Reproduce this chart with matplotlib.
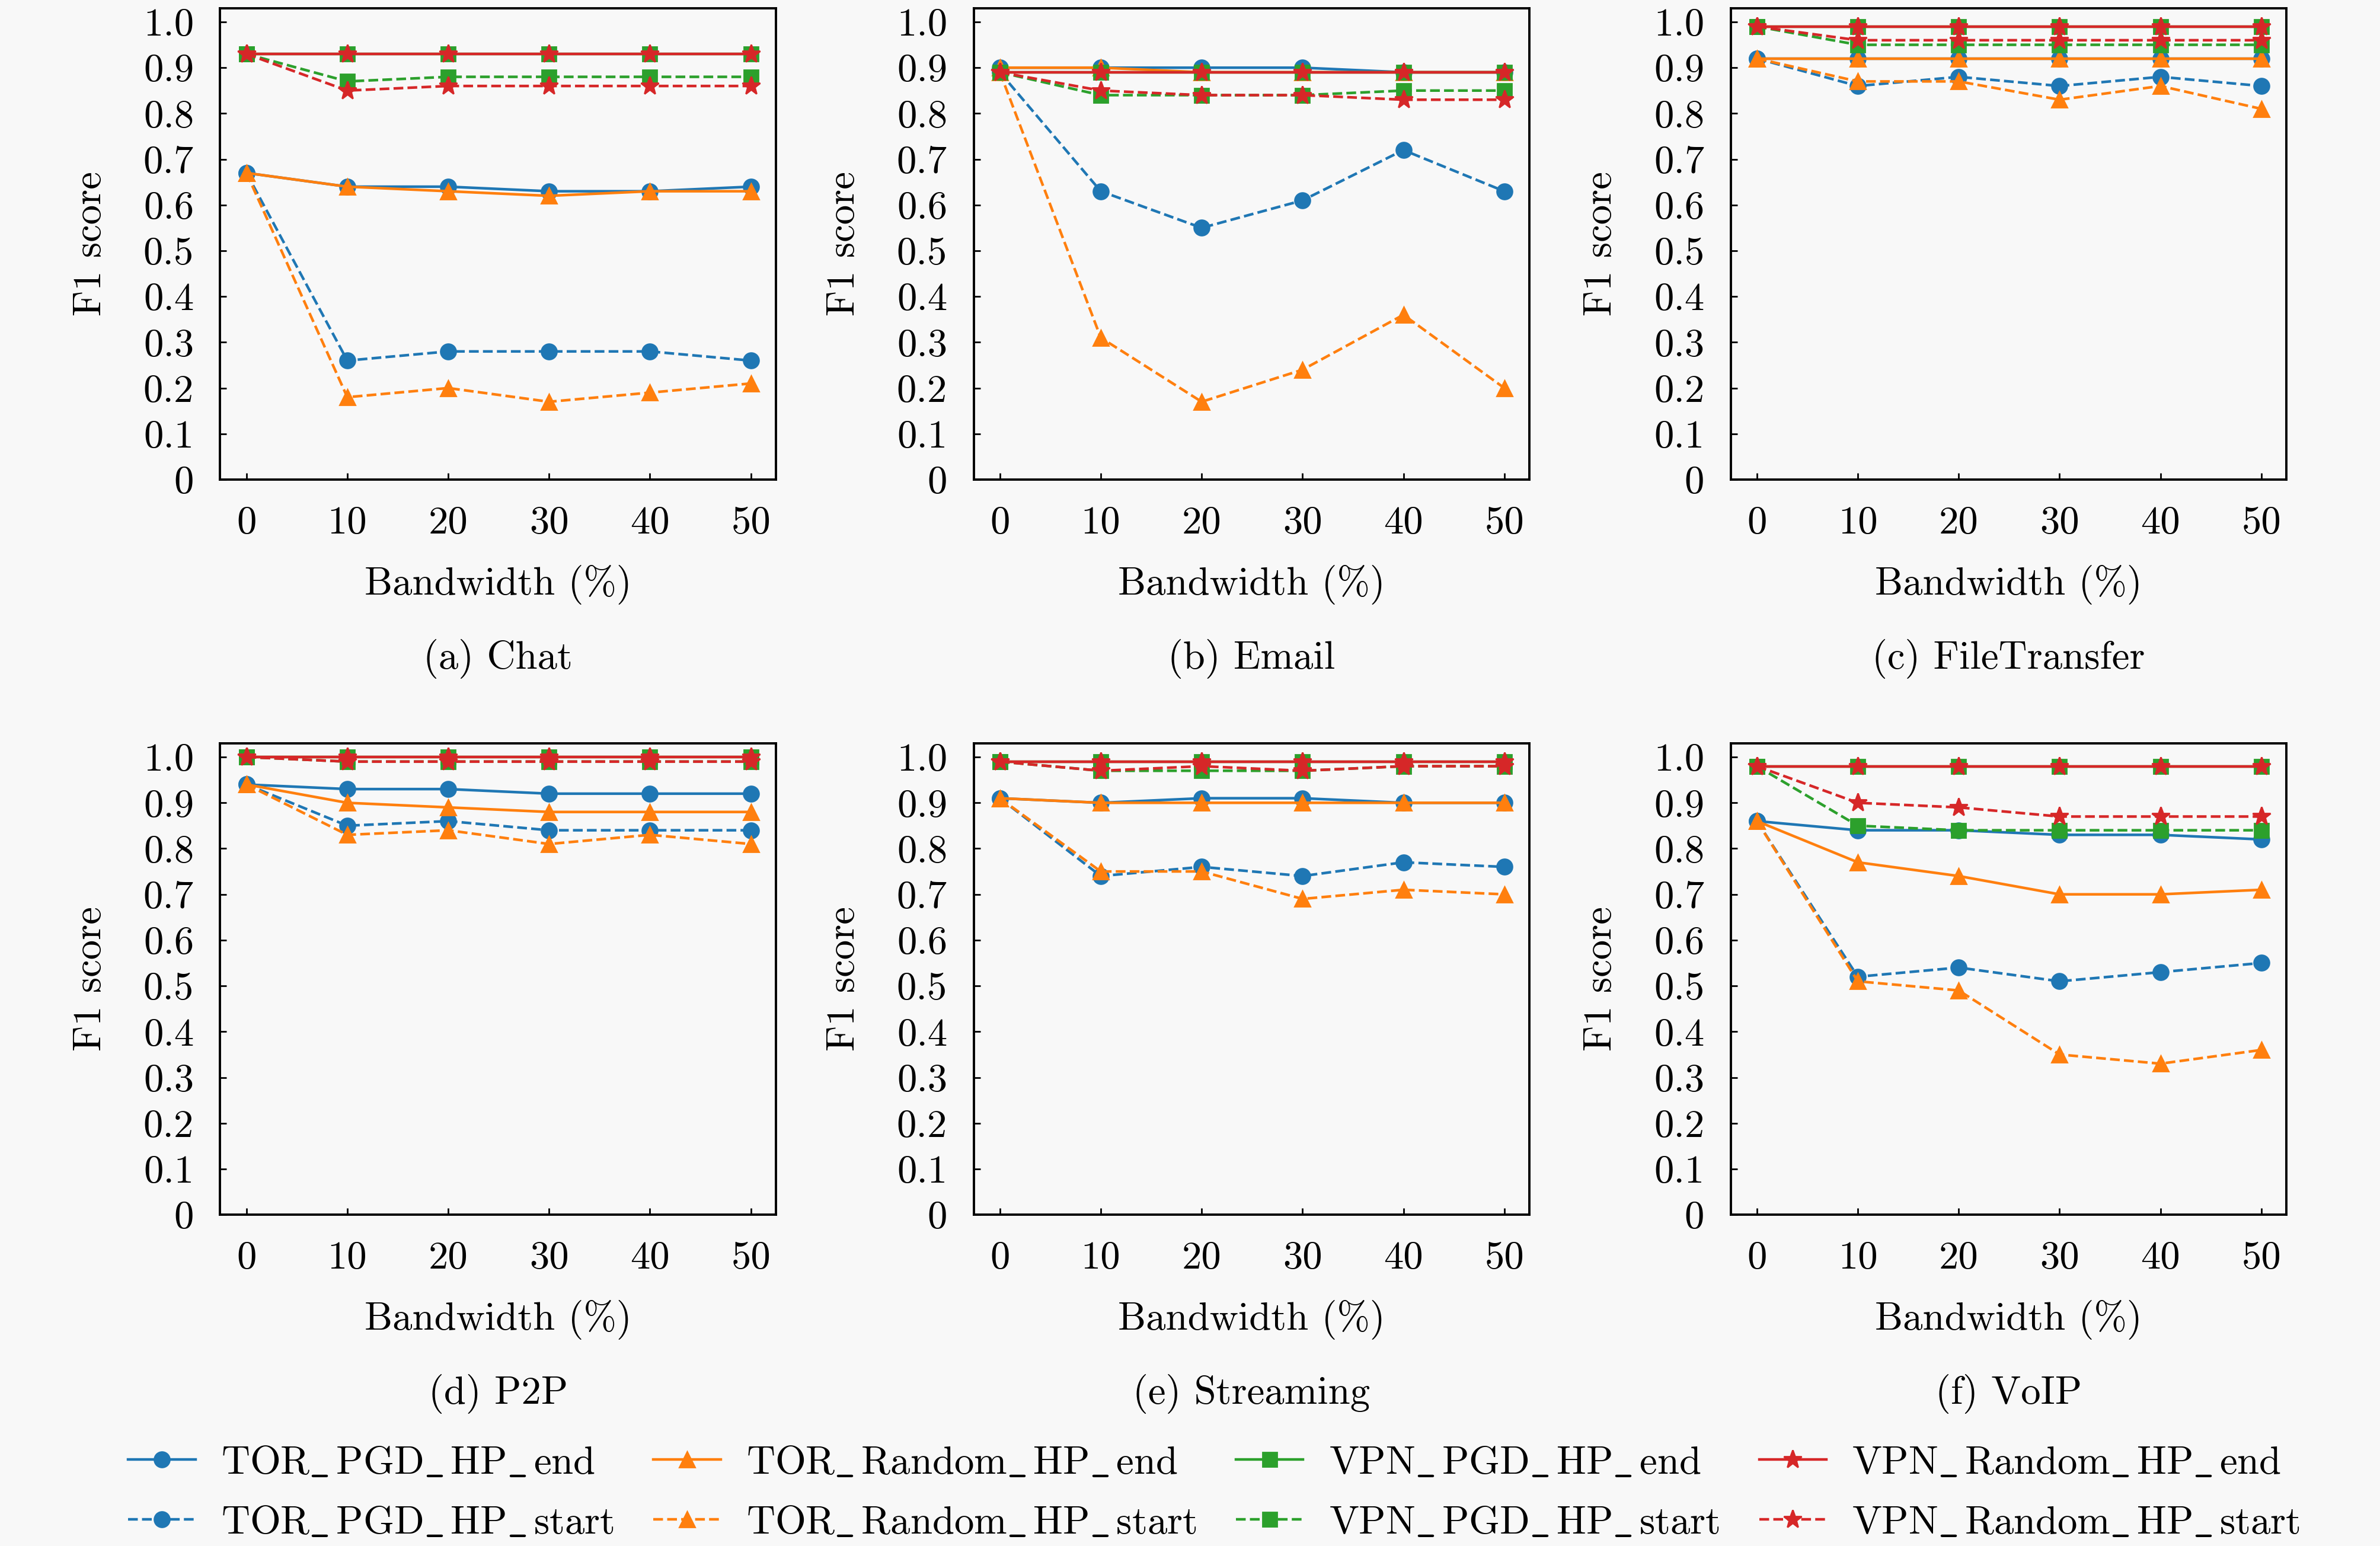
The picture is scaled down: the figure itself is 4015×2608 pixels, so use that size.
import numpy as np
import matplotlib
matplotlib.use("Agg")
import matplotlib.pyplot as plt

plt.rcParams["font.family"] = ["cmr10", "DejaVu Serif"]
plt.rcParams["mathtext.fontset"] = "cm"
plt.rcParams["axes.formatter.use_mathtext"] = True

bandwidth = [0, 10, 20, 30, 40, 50]
panels = ["(a) Chat", "(b) Email", "(c) FileTransfer",
          "(d) P2P", "(e) Streaming", "(f) VoIP"]

# per panel: chat, email, filetransfer, p2p, streaming, voip
tor_pgd_end = [
    [0.67, 0.64, 0.64, 0.63, 0.63, 0.64],
    [0.90, 0.90, 0.90, 0.90, 0.89, 0.89],
    [0.92, 0.92, 0.92, 0.92, 0.92, 0.92],
    [0.94, 0.93, 0.93, 0.92, 0.92, 0.92],
    [0.91, 0.90, 0.91, 0.91, 0.90, 0.90],
    [0.86, 0.84, 0.84, 0.83, 0.83, 0.82],
]
tor_pgd_start = [
    [0.67, 0.26, 0.28, 0.28, 0.28, 0.26],
    [0.89, 0.63, 0.55, 0.61, 0.72, 0.63],
    [0.92, 0.86, 0.88, 0.86, 0.88, 0.86],
    [0.94, 0.85, 0.86, 0.84, 0.84, 0.84],
    [0.91, 0.74, 0.76, 0.74, 0.77, 0.76],
    [0.86, 0.52, 0.54, 0.51, 0.53, 0.55],
]
tor_random_end = [
    [0.67, 0.64, 0.63, 0.62, 0.63, 0.63],
    [0.90, 0.90, 0.89, 0.89, 0.89, 0.89],
    [0.92, 0.92, 0.92, 0.92, 0.92, 0.92],
    [0.94, 0.90, 0.89, 0.88, 0.88, 0.88],
    [0.91, 0.90, 0.90, 0.90, 0.90, 0.90],
    [0.86, 0.77, 0.74, 0.70, 0.70, 0.71],
]
tor_random_start = [
    [0.67, 0.18, 0.20, 0.17, 0.19, 0.21],
    [0.89, 0.31, 0.17, 0.24, 0.36, 0.20],
    [0.92, 0.87, 0.87, 0.83, 0.86, 0.81],
    [0.94, 0.83, 0.84, 0.81, 0.83, 0.81],
    [0.91, 0.75, 0.75, 0.69, 0.71, 0.70],
    [0.86, 0.51, 0.49, 0.35, 0.33, 0.36],
]
vpn_pgd_end = [
    [0.93, 0.93, 0.93, 0.93, 0.93, 0.93],
    [0.89, 0.89, 0.89, 0.89, 0.89, 0.89],
    [0.99, 0.99, 0.99, 0.99, 0.99, 0.99],
    [1.00, 1.00, 1.00, 1.00, 1.00, 1.00],
    [0.99, 0.99, 0.99, 0.99, 0.99, 0.99],
    [0.98, 0.98, 0.98, 0.98, 0.98, 0.98],
]
vpn_pgd_start = [
    [0.93, 0.87, 0.88, 0.88, 0.88, 0.88],
    [0.89, 0.84, 0.84, 0.84, 0.85, 0.85],
    [0.99, 0.95, 0.95, 0.95, 0.95, 0.95],
    [1.00, 0.99, 0.99, 0.99, 0.99, 0.99],
    [0.99, 0.97, 0.97, 0.97, 0.98, 0.98],
    [0.98, 0.85, 0.84, 0.84, 0.84, 0.84],
]
vpn_random_end = [
    [0.93, 0.93, 0.93, 0.93, 0.93, 0.93],
    [0.89, 0.89, 0.89, 0.89, 0.89, 0.89],
    [0.99, 0.99, 0.99, 0.99, 0.99, 0.99],
    [1.00, 1.00, 1.00, 1.00, 1.00, 1.00],
    [0.99, 0.99, 0.99, 0.99, 0.99, 0.99],
    [0.98, 0.98, 0.98, 0.98, 0.98, 0.98],
]
vpn_random_start = [
    [0.93, 0.85, 0.86, 0.86, 0.86, 0.86],
    [0.89, 0.85, 0.84, 0.84, 0.83, 0.83],
    [0.99, 0.96, 0.96, 0.96, 0.96, 0.96],
    [1.00, 0.99, 0.99, 0.99, 0.99, 0.99],
    [0.99, 0.97, 0.98, 0.97, 0.98, 0.98],
    [0.98, 0.90, 0.89, 0.87, 0.87, 0.87],
]

yticks = [0, 0.1, 0.2, 0.3, 0.4, 0.5, 0.6, 0.7, 0.8, 0.9, 1.0]
ytick_labels = ["0", "0.1", "0.2", "0.3", "0.4", "0.5",
                "0.6", "0.7", "0.8", "0.9", "1.0"]

# (label, data, color, marker, linestyle)
series = [
    ("TOR_PGD_HP_end", tor_pgd_end, "#1f77b4", "o", "-"),
    ("TOR_PGD_HP_start", tor_pgd_start, "#1f77b4", "o", "--"),
    ("TOR_Random_HP_end", tor_random_end, "#ff7f0e", "^", "-"),
    ("TOR_Random_HP_start", tor_random_start, "#ff7f0e", "^", "--"),
    ("VPN_PGD_HP_end", vpn_pgd_end, "#2ca02c", "s", "-"),
    ("VPN_PGD_HP_start", vpn_pgd_start, "#2ca02c", "s", "--"),
    ("VPN_Random_HP_end", vpn_random_end, "#d62728", "*", "-"),
    ("VPN_Random_HP_start", vpn_random_start, "#d62728", "*", "--"),
]
marker_size = {"o": 9.3, "^": 9.6, "s": 8.8, "*": 11.5}


def tex_label(s):
    # cmr10 puts a dot accent where "_" should be, so go through mathtext
    return r"$\mathrm{" + s.replace("_", r"\_\,") + "}$"


bg = "#f8f8f8"
fs = 24
fig = plt.figure(figsize=(20.08, 13.04), dpi=200, facecolor=bg)

lefts = [0.0925, 0.4090, 0.7270]
bottoms = [0.6898, 0.2143]
w, h = 0.2335, 0.3049

for i, title in enumerate(panels):
    ax = fig.add_axes([lefts[i % 3], bottoms[i // 3], w, h], facecolor=bg)
    for label, data, color, marker, ls in series:
        ax.plot(bandwidth, data[i], color=color, marker=marker, linestyle=ls,
                linewidth=1.6, markersize=marker_size[marker], label=label)
    ax.set_xlim(-2.6, 52.5)
    ax.set_ylim(0, 1.03)
    ax.set_xticks(bandwidth)
    ax.set_xticklabels([str(b) for b in bandwidth])
    ax.set_yticks(yticks)
    ax.set_yticklabels(ytick_labels)
    ax.tick_params(direction="in", length=4, width=1.0, labelsize=fs, pad=16,
                   top=False, right=False)
    for sp in ax.spines.values():
        sp.set_linewidth(1.4)
    ax.set_xlabel("Bandwidth (%)", fontsize=fs, va="center")
    ax.xaxis.set_label_coords(0.5, -0.223)
    ax.set_ylabel("F1 score", fontsize=fs, va="center")
    ax.yaxis.set_label_coords(-0.233, 0.5)
    ax.text(0.5, -0.38, title, transform=ax.transAxes, ha="center",
            va="center", fontsize=fs)

handles, labels = ax.get_legend_handles_labels()
leg_kw = dict(loc="center", bbox_to_anchor=(0.51, 0.034), ncol=4,
              frameon=False, fontsize=fs, columnspacing=1.0,
              handlelength=1.7, handletextpad=0.65, labelspacing=0.62)
leg = fig.legend(handles, [tex_label(l) for l in labels], **leg_kw)
try:
    fig.canvas.draw()
except Exception:
    leg.remove()
    fig.legend(handles, labels, **leg_kw)

fig.savefig("out.png", dpi=200, facecolor=bg)
